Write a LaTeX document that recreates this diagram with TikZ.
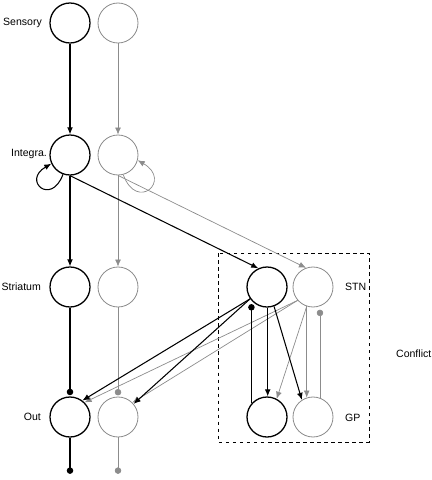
\documentclass[tikz,border=0pt]{standalone}
\usepackage{fontspec}
\setmainfont{Liberation Sans}
\usetikzlibrary{arrows.meta}
\colorlet{dim}{black!45}

\begin{document}
\begin{tikzpicture}[x=0.03cm, y=-0.03cm,
  unit/.style={circle, draw, line width=1.1pt, minimum size=1.2cm, inner sep=0pt},
  dimunit/.style={unit, draw=dim, line width=0.7pt},
  lab/.style={font=\fontsize{9}{10}\selectfont},
  exc/.style={-{Latex[length=6pt,width=5pt]}, line width=0.9pt},
  inh/.style={-{Circle[length=5.5pt]}, line width=0.9pt, shorten >=1pt},
  dimexc/.style={exc, draw=dim, line width=0.6pt},
  diminh/.style={inh, draw=dim, line width=0.6pt}]

\useasboundingbox (0,0) rectangle (432,480);

\node[unit] (sen1) at (70,23) {};
\node[dimunit] (sen2) at (118,23) {};
\node[unit] (int1) at (70,155) {};
\node[dimunit] (int2) at (118,155) {};
\node[unit] (str1) at (70,287) {};
\node[dimunit] (str2) at (118,287) {};
\node[unit] (out1) at (70,417) {};
\node[dimunit] (out2) at (118,417) {};
\node[unit] (stn1) at (267,287) {};
\node[dimunit] (stn2) at (313,287) {};
\node[unit] (gp1) at (267,417) {};
\node[dimunit] (gp2) at (313,417) {};

\coordinate (end1) at (70,475);
\coordinate (end2) at (118,475);

\node[lab, anchor=east] (lsen) at (46,23) {Sensory};
\node[lab, anchor=east] (lint) at (51,154) {Integra.};
\node[lab, anchor=east] (lstr) at (45,287) {Striatum};
\node[lab, anchor=east] (lout) at (45,417) {Out};
\node[lab, anchor=west] (lstn) at (341,287) {STN};
\node[lab, anchor=west] (lgp) at (341,418) {GP};
\node[lab, anchor=west] (lcon) at (392,354) {Conflict};

\draw[dashed, line width=0.8pt] (218,253) rectangle (369,442);

\draw[dimexc] (sen2) -- (int2);
\draw[dimexc] (int2.285) to[out=290, in=330, looseness=5] (int2.345);
\draw[dimexc] (int2) -- (str2);
\draw[dimexc] (int2.south) -- (stn2.110);
\draw[diminh] (str2) -- (out2);
\draw[diminh] (out2) -- (end2);
\draw[dimexc] (stn2.221) -- (out1.45);
\draw[dimexc] (stn2.221) -- (out2.45);
\draw[dimexc] (stn2.252) -- (gp1.62);
\draw[dimexc] (stn2.252) -- (gp2.108);
\draw[diminh, shorten >=3pt] (gp2.70) -- (stn2.290);

\draw[exc] (sen1) -- (int1);
\draw[exc] (int1.250) to[out=250, in=210, looseness=5.5] (int1.205);
\draw[exc] (int1) -- (str1);
\draw[exc] (int1.south) -- (stn1.115);
\draw[inh] (str1) -- (out1);
\draw[inh] (out1) -- (end1);
\draw[exc] (stn1.215) -- (out1.53);
\draw[exc] (stn1.215) -- (out2.40);
\draw[exc] (stn1.272) -- (gp1.88);
\draw[exc] (stn1.290) -- (gp2.123);
\draw[inh, shorten >=3pt] (gp1.139) -- (stn1.221);

\end{tikzpicture}
\end{document}
